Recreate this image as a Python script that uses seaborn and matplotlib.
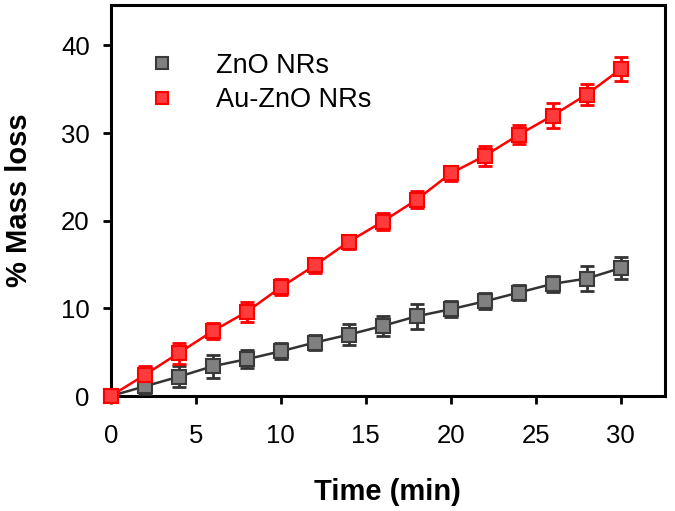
import numpy as np
import pandas as pd
import matplotlib
matplotlib.use("Agg")
import matplotlib.pyplot as plt
import seaborn as sns

# --- Data ---
time_min = [0, 2, 4, 6, 8, 10, 12, 14, 16, 18, 20, 22, 24, 26, 28, 30]
zno_loss = [0, 1.1, 2.2, 3.4, 4.2, 5.1, 6.1, 7.0, 8.0, 9.1, 9.9, 10.8, 11.8, 12.8, 13.4, 14.6]
zno_err = [0, 0.9, 1.2, 1.3, 1.0, 0.9, 0.9, 1.2, 1.1, 1.4, 0.9, 0.9, 0.9, 0.9, 1.4, 1.3]
auzno_loss = [0, 2.4, 4.9, 7.4, 9.6, 12.4, 14.9, 17.6, 19.9, 22.4, 25.4, 27.4, 29.8, 32.0, 34.4, 37.3]
auzno_err = [0, 1.0, 1.2, 0.9, 1.1, 0.9, 0.9, 0.8, 1.0, 1.0, 0.9, 1.1, 1.1, 1.4, 1.2, 1.4]
series_names = ["ZnO NRs", "Au-ZnO NRs"]

df = pd.DataFrame({
    "time": time_min * 2,
    "loss": zno_loss + auzno_loss,
    "err": zno_err + auzno_err,
    "sample": [series_names[0]] * len(time_min) + [series_names[1]] * len(time_min),
})

sns.set_style("ticks")
plt.rcParams["font.family"] = ["Liberation Sans", "DejaVu Sans"]
for k in ["text.color", "axes.labelcolor", "xtick.color", "ytick.color"]:
    plt.rcParams[k] = "black"

styles = {
    "ZnO NRs": dict(line="#333333", face="#808080", edge="#3a3a3a"),
    "Au-ZnO NRs": dict(line="#ff0000", face="#ff3b3b", edge="#ff0000"),
}

fig, ax = plt.subplots(figsize=(6.75, 5.11), dpi=100)
fig.subplots_adjust(left=0.164, right=0.985, top=0.99, bottom=0.225)

for name in series_names:
    d = df[df["sample"] == name]
    st = styles[name]
    ax.errorbar(d["time"], d["loss"], yerr=d["err"], fmt="none",
                ecolor=st["line"], elinewidth=2, capsize=5, capthick=2,
                zorder=3, clip_on=False)
    sns.lineplot(data=d, x="time", y="loss", ax=ax, color=st["line"],
                 linewidth=1.8, marker="s", markersize=10,
                 markerfacecolor=st["face"], markeredgecolor=st["edge"],
                 markeredgewidth=1.5, label=name, zorder=4, clip_on=False)

ax.set_xlim(0, 32.6)
ax.set_ylim(0, 44.6)
ax.set_xticks([0, 5, 10, 15, 20, 25, 30])
ax.set_yticks([0, 10, 20, 30, 40])
ax.tick_params(axis="both", labelsize=18.5, width=2, length=6, direction="out")
ax.tick_params(axis="x", pad=14)
ax.tick_params(axis="y", pad=9)

for sp in ax.spines.values():
    sp.set_linewidth(2.2)
    sp.set_color("black")

ax.set_xlabel("Time (min)", fontsize=21, fontweight="bold", labelpad=22)
ax.set_ylabel("% Mass loss", fontsize=21, fontweight="bold", labelpad=20)

# legend: markers only
handles = [plt.Line2D([], [], linestyle="none", marker="s", markersize=9,
                      markerfacecolor=styles[n]["face"],
                      markeredgecolor=styles[n]["edge"], markeredgewidth=1.5)
           for n in series_names]
ax.legend(handles, series_names, loc="upper left", bbox_to_anchor=(0.0, 0.94),
          frameon=False, fontsize=19.5, handletextpad=1.0, labelspacing=0.3)

plt.savefig("out.png", dpi=100)
